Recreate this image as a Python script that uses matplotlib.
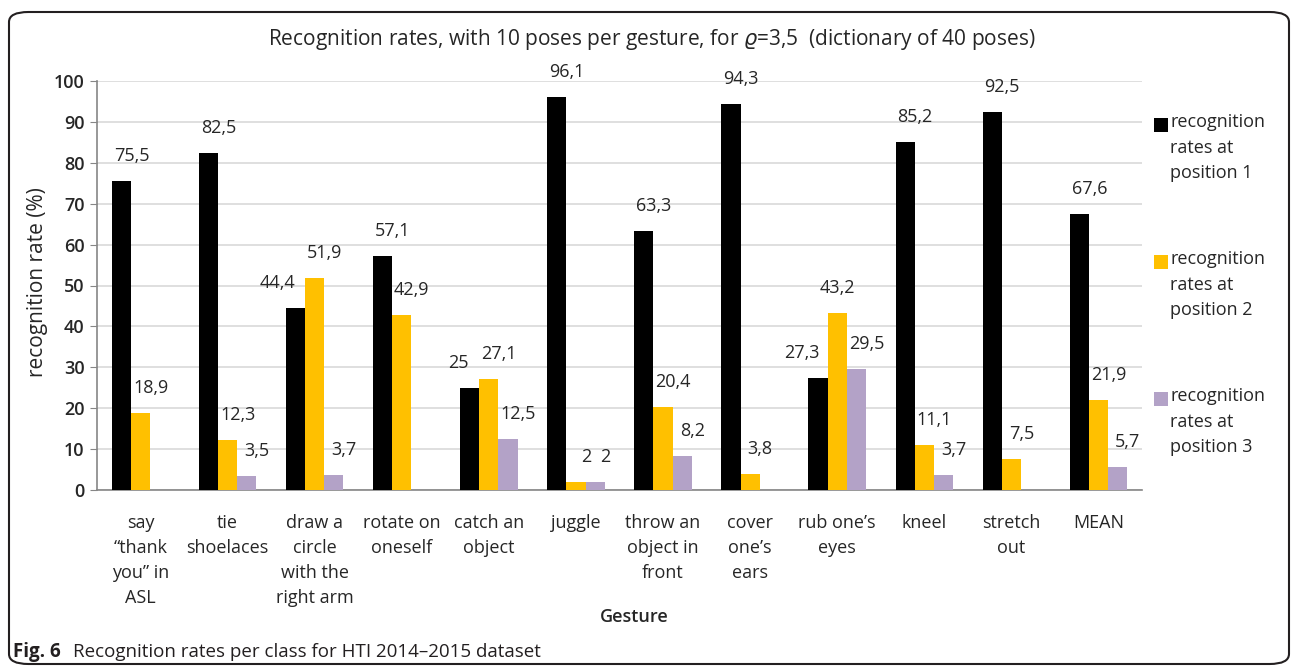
import numpy as np
import matplotlib.pyplot as plt
from matplotlib.patches import FancyBboxPatch, Rectangle

gestures = ["say\n\u201cthank\nyou\u201d in\nASL", "tie\nshoelaces", "draw a\ncircle\nwith the\nright arm",
            "rotate on\noneself", "catch an\nobject", "juggle", "throw an\nobject in\nfront",
            "cover\none\u2019s\nears", "rub one\u2019s\neyes", "kneel", "stretch\nout", "MEAN"]
pos1 = [75.5, 82.5, 44.4, 57.1, 25, 96.1, 63.3, 94.3, 27.3, 85.2, 92.5, 67.6]
pos2 = [18.9, 12.3, 51.9, 42.9, 27.1, 2, 20.4, 3.8, 43.2, 11.1, 7.5, 21.9]
pos3 = [0, 3.5, 3.7, 0, 12.5, 2, 8.2, 0, 29.5, 3.7, 0, 5.7]
series_names = ["recognition\nrates at\nposition 1", "recognition\nrates at\nposition 2", "recognition\nrates at\nposition 3"]
colors = ["#000000", "#FFC000", "#B3A2C7"]

# horizontal nudges (px) of a few value labels, as in the original
nudge = {(0, 2): -18, (0, 4): -11, (0, 8): -16, (1, 8): 0}

plt.rcParams['font.family'] = ['Open Sans', 'DejaVu Sans']
txt = "#262626"

fig = plt.figure(figsize=(12.96, 6.68), dpi=100)
W, H = 1296, 668
ax = fig.add_axes([97 / W, 1 - 490 / H, (1142 - 97) / W, (490 - 81) / H])

x = np.arange(len(gestures))
bw = 0.22
for k, (vals, c) in enumerate(zip([pos1, pos2, pos3], colors)):
    xs = x + (k - 1) * bw
    ax.bar(xs, vals, width=bw, color=c, zorder=3)
    for i, (xi, v) in enumerate(zip(xs, vals)):
        if v == 0:
            continue
        lab = ("%g" % v).replace(".", ",")
        dx = nudge.get((k, i), 10) * 0.72
        ax.annotate(lab, (xi, v), xytext=(dx, 18), textcoords="offset points",
                    ha="center", va="center", fontsize=13, color=txt, zorder=5)

ax.set_xlim(-0.5, len(gestures) - 0.5)
ax.set_ylim(0, 100)
ax.set_yticks(range(0, 101, 10))
ax.set_xticks(x)
ax.set_xticklabels(gestures, fontsize=13, color=txt, linespacing=1.5)
ax.tick_params(axis="x", length=0, pad=17)
ax.tick_params(axis="y", length=5, color="#868686", labelsize=13, labelcolor=txt, pad=4)
for t in ax.get_yticklabels():
    t.set_fontweight("semibold")
ax.grid(axis="y", color="#D9D9D9", linewidth=1.2, zorder=0)
ax.set_axisbelow(True)
for s in ["top", "right"]:
    ax.spines[s].set_visible(False)
for s in ["left", "bottom"]:
    ax.spines[s].set_color("#868686")
    ax.spines[s].set_linewidth(1.2)

ax.set_xlabel("Gesture", fontsize=13, fontweight="semibold", color=txt)
ax.xaxis.set_label_coords((634 - 97) / 1045, -(617 - 490) / 409)
ax.xaxis.label.set_va("center")
fig.text(38 / W, 1 - 282 / H, "recognition rate (%)", rotation=90, ha="center", va="center",
         fontsize=15, color=txt)
fig.text(652 / W, 1 - 40 / H, r"Recognition rates, with 10 poses per gesture, for $\varrho$=3,5  (dictionary of 40 poses)",
         ha="center", va="center", fontsize=15, color=txt)

# legend
for k, (name, c) in enumerate(zip(series_names, colors)):
    ytop = 125 + k * 137
    fig.patches.append(Rectangle((1154 / W, 1 - (ytop + 7) / H), 14 / W, 14 / H,
                                 transform=fig.transFigure, facecolor=c, edgecolor="none"))
    fig.text(1170 / W, 1 - (ytop - 12) / H, name, ha="left", va="top", fontsize=13,
             color=txt, linespacing=1.55)

# frame and caption
fig.patches.append(FancyBboxPatch((9 / W, 4 / H), 1280 / W, 652 / H,
                                  boxstyle="round,pad=0,rounding_size=0.015",
                                  transform=fig.transFigure, facecolor="none",
                                  edgecolor="#231F20", linewidth=1.5))
fig.text(13 / W, 1 - 652 / H, "Fig. 6", fontweight="bold", ha="left", va="center", fontsize=13.5, color="#231F20")
fig.text(73 / W, 1 - 652 / H, "Recognition rates per class for HTI 2014\u20132015 dataset",
         ha="left", va="center", fontsize=13.5, color="#231F20")

fig.savefig("out.png", dpi=100)
